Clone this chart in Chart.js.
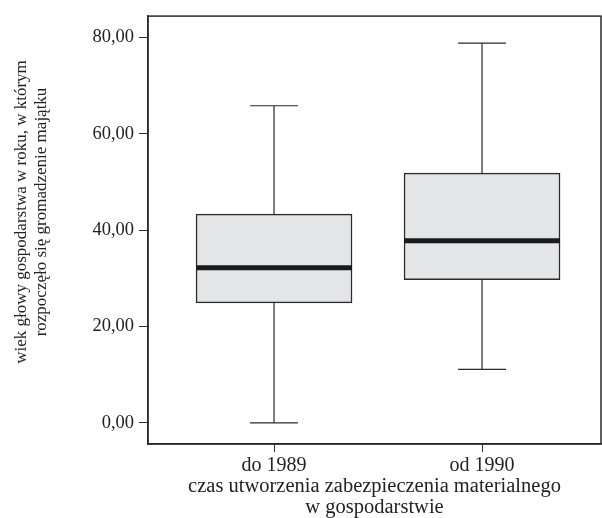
<!DOCTYPE html>
<html>
<head>
<meta charset="utf-8">
<script src="https://cdn.jsdelivr.net/npm/chart.js@4.4.0/dist/chart.umd.min.js"></script>
<style>
  html, body { margin: 0; padding: 0; background: #fff; }
  #wrap { width: 602px; height: 518px; }
</style>
</head>
<body>
<div id="wrap"><canvas id="boxCanvas" width="602" height="518"></canvas></div>
<script>
// dane
const categories = ['do 1989', 'od 1990'];
const whiskerLow = [0, 11.1];
const q1 = [24.9, 29.7];
const median = [32.2, 37.8];
const q3 = [43.3, 51.8];
const whiskerHigh = [65.8, 78.8];
const yTicks = [0, 20, 40, 60, 80];

const yTitle = ['wiek głowy gospodarstwa w roku, w którym', 'rozpoczęło się gromadzenie majątku'];
const xTitle = ['czas utworzenia zabezpieczenia materialnego', 'w gospodarstwie'];

const lineColor = '#2b2b2b';
const textColor = '#222';
const serif = "'Liberation Serif', 'DejaVu Serif', serif";

// wąsy, mediana, ramka i tytuł osi Y
const boxPlugin = {
    id: 'boxPlugin',
    afterDatasetsDraw(chart) {
        const ctx = chart.ctx;
        const y = chart.scales.y;
        const meta = chart.getDatasetMeta(0);
        ctx.save();
        meta.data.forEach((bar, i) => {
            const cx = bar.x;
            const half = bar.width / 2;
            const cap = 24;
            ctx.strokeStyle = lineColor;
            ctx.lineWidth = 1.2;
            ctx.beginPath();
            ctx.moveTo(cx, y.getPixelForValue(q3[i]));
            ctx.lineTo(cx, y.getPixelForValue(whiskerHigh[i]));
            ctx.moveTo(cx, y.getPixelForValue(q1[i]));
            ctx.lineTo(cx, y.getPixelForValue(whiskerLow[i]));
            ctx.moveTo(cx - cap, y.getPixelForValue(whiskerHigh[i]));
            ctx.lineTo(cx + cap, y.getPixelForValue(whiskerHigh[i]));
            ctx.moveTo(cx - cap, y.getPixelForValue(whiskerLow[i]));
            ctx.lineTo(cx + cap, y.getPixelForValue(whiskerLow[i]));
            ctx.stroke();

            ctx.strokeStyle = '#1a1a1a';
            ctx.lineWidth = 5;
            ctx.beginPath();
            ctx.moveTo(cx - half, y.getPixelForValue(median[i]));
            ctx.lineTo(cx + half, y.getPixelForValue(median[i]));
            ctx.stroke();
        });
        const a = chart.chartArea;
        ctx.strokeStyle = lineColor;
        ctx.lineWidth = 1.5;
        ctx.strokeRect(a.left, a.top, a.right - a.left, a.bottom - a.top);

        // tytuł osi Y (dwie linie, obrócone)
        ctx.translate(0, 212);
        ctx.rotate(-Math.PI / 2);
        ctx.fillStyle = textColor;
        ctx.font = '17px ' + serif;
        ctx.textAlign = 'center';
        ctx.textBaseline = 'middle';
        ctx.fillText(yTitle[0], 0, 22);
        ctx.fillText(yTitle[1], 0, 42);
        ctx.restore();
    }
};

const ctx = document.getElementById('boxCanvas').getContext('2d');
new Chart(ctx, {
    type: 'bar',
    data: {
        datasets: [{
            data: categories.map((c, i) => ({ x: i, y: [q1[i], q3[i]] })),
            backgroundColor: '#e4e5e7',
            borderColor: lineColor,
            borderWidth: 1.5,
            borderSkipped: false,
            barThickness: 156
        }]
    },
    options: {
        responsive: false,
        animation: false,
        layout: { padding: { top: 14, right: 1, left: 0, bottom: 0 } },
        plugins: {
            legend: { display: false },
            tooltip: { enabled: false }
        },
        scales: {
            x: {
                type: 'linear',
                min: -0.606,
                max: 1.572,
                offset: false,
                afterBuildTicks: scale => { scale.ticks = categories.map((c, i) => ({ value: i })); },
                afterFit: scale => { scale.height = 74; },
                grid: { offset: false, drawOnChartArea: false, drawTicks: true, tickLength: 8, color: lineColor },
                border: { color: lineColor, width: 1.5 },
                ticks: {
                    color: textColor,
                    padding: 2,
                    maxRotation: 0,
                    font: { family: serif, size: 20 },
                    callback: v => categories[v]
                },
                title: {
                    display: true,
                    text: xTitle,
                    color: textColor,
                    padding: { top: -4, bottom: 0 },
                    font: { family: serif, size: 20.5, lineHeight: 1.03 }
                }
            },
            y: {
                min: -4.4,
                max: 84.4,
                afterBuildTicks: scale => { scale.ticks = yTicks.map(v => ({ value: v })); },
                afterFit: scale => { scale.width = 148; },
                grid: { drawOnChartArea: false, drawTicks: true, tickLength: 9, color: lineColor },
                border: { color: lineColor, width: 1.5 },
                ticks: {
                    color: textColor,
                    padding: 5,
                    font: { family: serif, size: 18.5 },
                    callback: v => v.toFixed(2).replace('.', ',')
                }
            }
        }
    },
    plugins: [boxPlugin]
});
</script>
</body>
</html>
